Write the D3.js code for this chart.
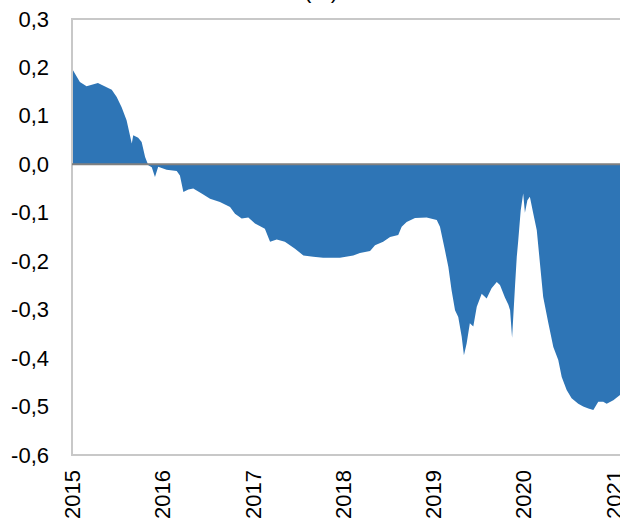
<!DOCTYPE html>
<html>
<head>
<meta charset="utf-8">
<script src="https://cdn.jsdelivr.net/npm/d3@7"></script>
<style>
  body { margin: 0; background: #fff; }
  svg { display: block; font-family: "Liberation Sans", Arial, sans-serif; }
</style>
</head>
<body>
<div id="chart"></div>
<script>
// values
const dates = [
  "2015-01-05", "2015-02-02", "2015-03-01", "2015-04-16", "2015-05-21", "2015-06-11",
  "2015-07-01", "2015-07-21", "2015-08-10", "2015-08-31", "2015-09-06", "2015-09-26",
  "2015-10-10", "2015-10-24", "2015-11-06", "2015-11-20", "2015-12-03", "2015-12-16",
  "2016-01-19", "2016-02-29", "2016-03-13", "2016-03-27", "2016-04-16", "2016-05-06",
  "2016-06-09", "2016-07-13", "2016-08-22", "2016-10-02", "2016-10-22", "2016-11-18",
  "2016-12-15", "2017-01-11", "2017-02-20", "2017-03-13", "2017-04-09", "2017-05-12",
  "2017-06-22", "2017-07-26", "2017-09-04", "2017-10-14", "2017-12-21", "2018-02-13",
  "2018-03-12", "2018-04-22", "2018-05-12", "2018-06-14", "2018-07-12", "2018-08-14",
  "2018-08-28", "2018-09-17", "2018-10-21", "2018-12-07", "2019-01-17", "2019-01-30",
  "2019-02-19", "2019-03-05", "2019-03-18", "2019-04-01", "2019-04-14", "2019-04-28",
  "2019-05-07", "2019-05-18", "2019-05-31", "2019-06-14", "2019-06-28", "2019-07-18",
  "2019-08-07", "2019-08-27", "2019-09-17", "2019-09-30", "2019-10-20", "2019-11-03",
  "2019-11-10", "2019-11-18", "2019-11-30", "2019-12-07", "2019-12-13", "2019-12-23",
  "2020-01-02", "2020-01-09", "2020-01-19", "2020-01-29", "2020-02-12", "2020-02-26",
  "2020-03-10", "2020-03-23", "2020-04-13", "2020-05-03", "2020-05-23", "2020-06-06",
  "2020-06-26", "2020-07-16", "2020-08-12", "2020-09-01", "2020-09-22", "2020-10-12",
  "2020-11-01", "2020-11-21", "2020-12-05", "2021-01-01", "2021-01-28"
];
const values = [
  0.194, 0.170, 0.161, 0.168, 0.159, 0.154,
  0.139, 0.118, 0.091, 0.043, 0.060, 0.055,
  0.046, 0.015, -0.002, -0.006, -0.026, -0.005,
  -0.011, -0.014, -0.023, -0.057, -0.052, -0.050,
  -0.060, -0.071, -0.078, -0.088, -0.102, -0.112,
  -0.110, -0.122, -0.133, -0.160, -0.155, -0.160,
  -0.174, -0.188, -0.191, -0.193, -0.193, -0.188,
  -0.183, -0.179, -0.167, -0.160, -0.150, -0.146,
  -0.129, -0.119, -0.111, -0.110, -0.115, -0.129,
  -0.177, -0.212, -0.260, -0.301, -0.315, -0.356,
  -0.394, -0.370, -0.328, -0.335, -0.294, -0.267,
  -0.277, -0.256, -0.243, -0.249, -0.275, -0.290,
  -0.301, -0.358, -0.250, -0.191, -0.157, -0.095,
  -0.060, -0.100, -0.074, -0.067, -0.102, -0.136,
  -0.205, -0.274, -0.328, -0.377, -0.404, -0.439,
  -0.466, -0.483, -0.494, -0.500, -0.504, -0.507,
  -0.490, -0.490, -0.494, -0.487, -0.476
];
const yTicks = [0.3, 0.2, 0.1, 0.0, -0.1, -0.2, -0.3, -0.4, -0.5, -0.6];
const yearTicks = [2015, 2016, 2017, 2018, 2019, 2020, 2021];
const title = "(%)";

const width = 620, height = 527;
const margin = { top: 19, right: 0, bottom: 72, left: 72 };
const fontSize = "22px";

const parse = d3.timeParse("%Y-%m-%d");
const data = dates.map((d, i) => ({ date: parse(d), value: values[i] }));

const svg = d3.select("#chart").append("svg")
    .attr("width", width)
    .attr("height", height);

const x = d3.scaleTime()
    .domain([new Date(2015, 0, 1), parse("2021-01-28")])
    .range([margin.left, width - margin.right]);

const y = d3.scaleLinear()
    .domain([-0.6, 0.3])
    .range([height - margin.bottom, margin.top]);

// title sits above the frame, only its lowest part shows
svg.append("text")
    .attr("x", 321)
    .attr("y", -2)
    .attr("text-anchor", "middle")
    .style("font-size", fontSize)
    .attr("fill", "#000")
    .text(title);

const area = d3.area()
    .x(d => x(d.date))
    .y0(y(0))
    .y1(d => y(d.value));

svg.append("path")
    .datum(data)
    .attr("d", area)
    .attr("fill", "#2E75B6");

// frame
svg.append("path")
    .attr("d", `M${width + 5},${y(0.3)}H${margin.left}V${y(-0.6)}H${width + 5}`)
    .attr("fill", "none")
    .attr("stroke", "#C8C8C8")
    .attr("stroke-width", 2);

// zero line
svg.append("line")
    .attr("x1", margin.left)
    .attr("x2", width)
    .attr("y1", y(0))
    .attr("y2", y(0))
    .attr("stroke", "#808080")
    .attr("stroke-width", 2);

const yAxis = d3.axisLeft(y)
    .tickValues(yTicks)
    .tickSize(0)
    .tickPadding(23)
    .tickFormat(d => d3.format(".1f")(d).replace(".", ",").replace("−", "-"));

svg.append("g")
    .attr("transform", `translate(${margin.left},0)`)
    .call(yAxis)
    .call(g => g.select(".domain").remove())
    .selectAll("text")
    .style("font-size", fontSize)
    .style("font-family", "'Liberation Sans', Arial, sans-serif")
    .attr("fill", "#000");

const xAxis = d3.axisBottom(x)
    .tickValues(yearTicks.map(yr => new Date(yr, 0, 1)))
    .tickSize(0)
    .tickFormat(d3.timeFormat("%Y"));

svg.append("g")
    .attr("transform", `translate(0,${height - margin.bottom})`)
    .call(xAxis)
    .call(g => g.select(".domain").remove())
    .selectAll("text")
    .style("font-size", fontSize)
    .style("font-family", "'Liberation Sans', Arial, sans-serif")
    .attr("fill", "#000")
    .style("text-anchor", "end")
    .attr("transform", "rotate(-90)")
    .attr("x", -15)
    .attr("y", 0)
    .attr("dy", "0.35em");
</script>
</body>
</html>
